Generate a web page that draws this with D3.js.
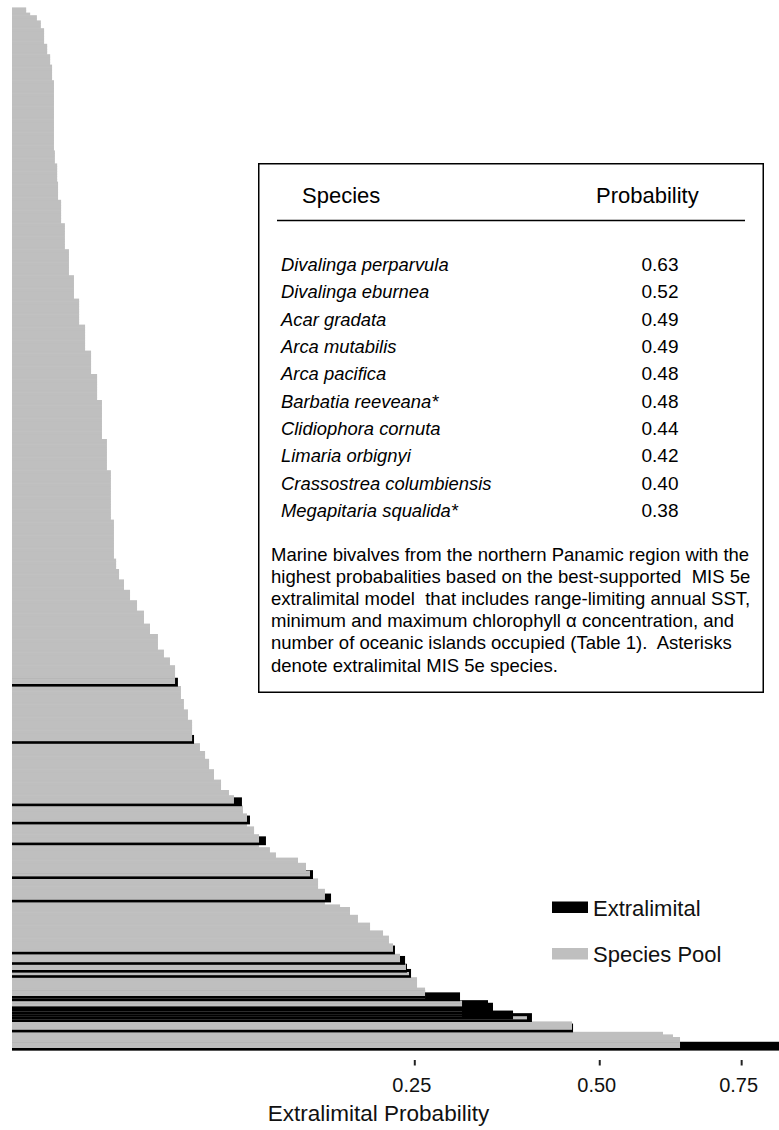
<!DOCTYPE html>
<html>
<head>
<meta charset="utf-8">
<script src="https://cdn.jsdelivr.net/npm/d3@7"></script>
<style>
  html, body { margin: 0; padding: 0; background: #fff; }
  svg { display: block; font-family: "Liberation Sans", Arial, Helvetica, sans-serif; }
  text { white-space: pre; }
</style>
</head>
<body>
<svg id="chart" width="779" height="1130"></svg>
<script>
// Species pool: predicted extralimital probability, and how many species share it (lowest first)
const poolProbability = [
  0.0042, 0.0048, 0.0059, 0.0066, 0.0072, 0.0078, 0.0084, 0.0088, 0.0092, 0.0094,
  0.0099, 0.0101, 0.0108, 0.0117, 0.0127, 0.0140, 0.0154, 0.0171, 0.0189, 0.0208,
  0.0224, 0.0241, 0.0255, 0.0266, 0.0274, 0.0285, 0.0304, 0.0328, 0.0357, 0.0387,
  0.0414, 0.0451, 0.0480, 0.0510, 0.0536, 0.0567, 0.0583, 0.0605, 0.0628, 0.0673,
  0.0703, 0.0727, 0.0757, 0.0801, 0.0852, 0.0885, 0.0946, 0.0974, 0.1024, 0.1060,
  0.1141, 0.1187, 0.1363, 0.1430, 0.1464, 0.1534, 0.1595, 0.1733, 0.1827, 0.1904,
  0.2024, 0.2157, 0.2219, 0.2262, 0.2337, 0.2402, 0.2436, 0.2525, 0.2616, 0.2650,
  0.3057, 0.3914, 0.4570, 0.6052, 0.6227, 0.6352
];
const poolCount = [
  2, 1, 2, 3, 6, 4, 4, 6, 27, 5,
  7, 7, 9, 10, 10, 9, 10, 10, 9, 10,
  15, 12, 19, 15, 4, 4, 4, 4, 4, 5,
  4, 6, 3, 3, 8, 5, 4, 4, 9, 3,
  3, 4, 4, 4, 2, 4, 3, 5, 3, 5,
  2, 2, 2, 3, 3, 4, 6, 1, 3, 3,
  3, 2, 3, 4, 4, 3, 2, 4, 4, 1,
  6, 2, 4, 1, 1, 5
];

// Extralimital species: rank within the pool (0 = lowest probability) and probability
const extralimitalRank = [
  260, 282, 306, 313, 321, 334, 343, 363, 367, 370,
  372, 380, 381, 384, 385, 386, 387, 388, 389, 393, 400
];
const extralimitalProbability = [
  0.0551, 0.0639, 0.0939, 0.0995, 0.1111, 0.1490, 0.1650, 0.2283, 0.2392, 0.2413,
  0.2458, 0.2616, 0.3032, 0.3387, 0.3452, 0.3452, 0.3452, 0.3721, 0.3984, 0.4586, 0.8500
];

const tickValues = [0.25, 0.50, 0.75];
const tickLabels = ["0.25", "0.50", "0.75"];
const axisTitle = "Extralimital Probability";

const legendLabels = ["Extralimital", "Species Pool"];
const legendColors = ["#000000", "#bfbfbf"];

const tableHeader = ["Species", "Probability"];
const tableSpecies = [
  "Divalinga perparvula", "Divalinga eburnea", "Acar gradata", "Arca mutabilis",
  "Arca pacifica", "Barbatia reeveana*", "Clidiophora cornuta", "Limaria orbignyi",
  "Crassostrea columbiensis", "Megapitaria squalida*"
];
const tableProbability = ["0.63", "0.52", "0.49", "0.49", "0.48", "0.48", "0.44", "0.42", "0.40", "0.38"];
const captionLines = [
  "Marine bivalves from the northern Panamic region with the",
  "highest probabalities based on the best-supported  MIS 5e",
  "extralimital model  that includes range-limiting annual SST,",
  "minimum and maximum chlorophyll \u03b1 concentration, and",
  "number of oceanic islands occupied (Table 1).  Asterisks",
  "denote extralimital MIS 5e species."
];

// ---------------------------------------------------------------------------
const W = 779, H = 1130;
const plot = { left: 12, top: 8, bottom: 1050.6, right: W };
const svg = d3.select("#chart");

// expand the run-length pool into one value per species
const poolValues = [];
poolProbability.forEach((p, i) => { for (let k = 0; k < poolCount[i]; k++) poolValues.push(p); });
const N = poolValues.length;
const extByRank = new Map(extralimitalRank.map((r, i) => [r, extralimitalProbability[i]]));

const x = d3.scaleSqrt().domain([0, 1]).range([-31.7, 861.3]);
const y = d3.scaleBand().domain(d3.range(N)).range([plot.top, plot.bottom]).padding(0);
const bw = y.bandwidth();
const extThickness = bw * 3.4;

svg.append("defs").append("clipPath").attr("id", "plotClip")
  .append("rect").attr("x", plot.left).attr("y", 0).attr("width", W - plot.left).attr("height", H);

// bars are painted from the highest-ranked species upward, so each row overlays the one below it
const marks = [];
for (let i = N - 1; i >= 0; i--) {
  marks.push({ kind: "pool", rank: i, value: poolValues[i] });
  if (extByRank.has(i)) marks.push({ kind: "ext", rank: i, value: extByRank.get(i) });
}

svg.append("g").attr("clip-path", "url(#plotClip)")
  .selectAll("rect").data(marks).join("rect")
  .attr("x", x(0))
  .attr("width", d => x(d.value) - x(0))
  .attr("y", d => d.kind === "pool" ? y(d.rank) - 0.6 : y(d.rank) + bw - extThickness)
  .attr("height", d => d.kind === "pool" ? bw + 0.6 : extThickness)
  .attr("fill", d => d.kind === "pool" ? legendColors[1] : legendColors[0]);

// x axis: ticks and labels only
const axisG = svg.append("g");
axisG.selectAll("line").data(tickValues).join("line")
  .attr("x1", d => x(d)).attr("x2", d => x(d))
  .attr("y1", 1060).attr("y2", 1065.5)
  .attr("stroke", "#222").attr("stroke-width", 2);
axisG.selectAll("text").data(tickValues).join("text")
  .attr("x", d => x(d) - 3).attr("y", 1092)
  .attr("text-anchor", "middle").attr("font-size", 20).attr("fill", "#111")
  .text((d, i) => tickLabels[i]);
svg.append("text").attr("x", 378.5).attr("y", 1121)
  .attr("text-anchor", "middle").attr("font-size", 22.5).attr("fill", "#111")
  .text(axisTitle);

// legend
const legend = svg.append("g");
const legendY = [907.5, 954];
legend.selectAll("rect").data(legendLabels).join("rect")
  .attr("x", 552).attr("y", (d, i) => legendY[i] - 6)
  .attr("width", 36).attr("height", 11.5)
  .attr("fill", (d, i) => legendColors[i]);
legend.selectAll("text").data(legendLabels).join("text")
  .attr("x", 593).attr("y", (d, i) => legendY[i] + 8)
  .attr("font-size", 22).attr("fill", "#111")
  .text(d => d);

// table panel
const panel = svg.append("g");
panel.append("rect").attr("x", 258.75).attr("y", 163.75).attr("width", 504.5).attr("height", 528.5)
  .attr("fill", "#fff").attr("stroke", "#000").attr("stroke-width", 1.5);
panel.append("text").attr("x", 302).attr("y", 203).attr("font-size", 22).text(tableHeader[0]);
panel.append("text").attr("x", 596).attr("y", 203).attr("font-size", 22).text(tableHeader[1]);
panel.append("line").attr("x1", 277).attr("x2", 745).attr("y1", 220.5).attr("y2", 220.5)
  .attr("stroke", "#000").attr("stroke-width", 1.6);

const rowY = d3.scalePoint().domain(d3.range(tableSpecies.length)).range([271, 517]);
panel.selectAll("text.sp").data(tableSpecies).join("text").attr("class", "sp")
  .attr("x", 281).attr("y", (d, i) => rowY(i))
  .attr("font-size", 18.4).attr("font-style", "italic").text(d => d);
panel.selectAll("text.pr").data(tableProbability).join("text").attr("class", "pr")
  .attr("x", 660).attr("y", (d, i) => rowY(i))
  .attr("text-anchor", "middle").attr("font-size", 19).text(d => d);

const capY = d3.scalePoint().domain(d3.range(captionLines.length)).range([560.5, 671.5]);
panel.selectAll("text.cap").data(captionLines).join("text").attr("class", "cap")
  .attr("x", 271).attr("y", (d, i) => capY(i))
  .attr("font-size", 18.5).text(d => d);
</script>
</body>
</html>
